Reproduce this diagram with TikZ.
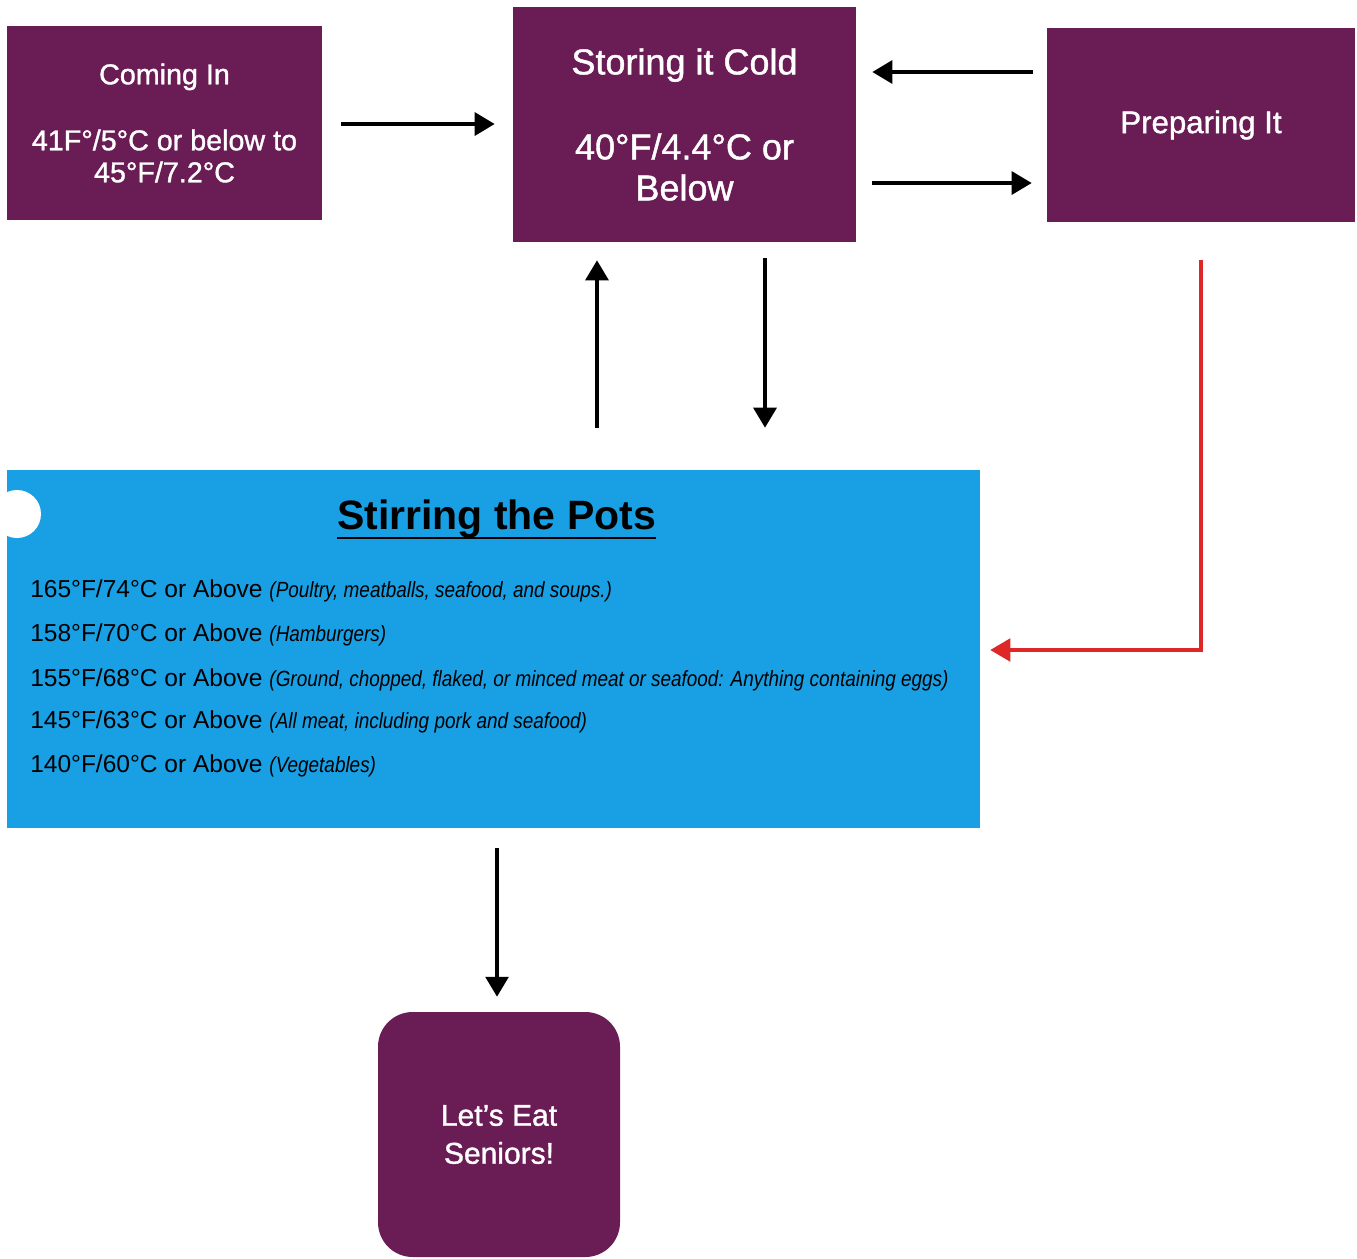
\documentclass[tikz,border=0pt]{standalone}
\usepackage{fontspec}
\setmainfont{Liberation Sans}
\newfontfamily\narrowfont[FakeStretch=0.86]{Liberation Sans}
\newfontfamily\stagefont[FakeBold=1.2]{Liberation Sans}
\usetikzlibrary{arrows.meta,calc}

\definecolor{plum}{RGB}{106,29,85}
\definecolor{skyblue}{RGB}{25,160,228}
\definecolor{arrowred}{RGB}{222,40,40}

% condensed italic remark after each temperature
\newcommand{\foodnote}[1]{{\narrowfont\itshape\fontsize{16.5}{20}\selectfont #1}}

\tikzset{
  stage/.style={fill=plum, text=white, align=center, inner sep=0pt},
  flow/.style={line width=3pt, -{Triangle[length=15pt,width=17pt]}},
  redflow/.style={draw=arrowred, line width=2.3pt, -{Triangle[length=15pt,width=17pt]}},
  templine/.style={anchor=base west, inner sep=0pt, font=\fontsize{18.4}{22}\selectfont}
}

\begin{document}
\begin{tikzpicture}[x=0.75pt,y=-0.75pt]
  \useasboundingbox (0,0) rectangle (1357,1258);
  \fill[white] (0,0) rectangle (1357,1258);

  % purple stage boxes
  \node[stage, minimum width=236.25pt, minimum height=145.5pt,
        font=\stagefont\fontsize{21.5}{24}\selectfont] (coming) at (164.5,123)
        {\rule{0pt}{12pt}Coming In\\[25.5pt]41F°/5°C or below to\\45°F/7.2°C};
  \node[stage, minimum width=257.25pt, minimum height=176.25pt,
        font=\stagefont\fontsize{27}{30.75}\selectfont] (storing) at (684.5,124.5)
        {Storing it Cold\\[33pt]40°F/4.4°C or\\Below};
  \node[stage, minimum width=231pt, minimum height=145.5pt,
        font=\stagefont\fontsize{23.4}{28}\selectfont] (prep) at (1201,125)
        {Preparing It};

  % cooking temperatures panel
  \node[fill=skyblue, minimum width=729.75pt, minimum height=268.5pt,
        inner sep=0pt] (pots) at (493.5,649) {};
  \fill[white] (17,514) circle[radius=18pt];
  \node[anchor=base, inner sep=0pt,
        font=\bfseries\fontsize{30.75}{36}\selectfont] (title) at (496.5,529)
        {Stirring the Pots};
  \draw[line width=2.2pt] ([yshift=-6.75pt]title.base west) -- ([yshift=-6.75pt]title.base east);
  \node[templine] (t165) at (30,597) {165°F/74°C or Above \foodnote{(Poultry, meatballs, seafood, and soups.)}};
  \node[templine] (t158) at (30,641) {158°F/70°C or Above \foodnote{(Hamburgers)}};
  \node[templine] (t155) at (30,686) {155°F/68°C or Above \foodnote{(Ground, chopped, flaked, or minced meat or seafood: Anything containing eggs)}};
  \node[templine] (t145) at (30,728) {145°F/63°C or Above \foodnote{(All meat, including pork and seafood)}};
  \node[templine] (t140) at (30,772) {140°F/60°C or Above \foodnote{(Vegetables)}};

  % serving box
  \node[stage, rounded corners=26pt, minimum width=181.5pt, minimum height=183.75pt,
        font=\stagefont\fontsize{22.5}{28.5}\selectfont] (eat) at (499,1134.5)
        {\rule{0pt}{10pt}Let’s Eat\\Seniors!};

  % connectors
  \draw[flow, shorten <=14.25pt, shorten >=13.5pt] (coming.east |- 0,124) -- (storing.west |- 0,124);
  \draw[flow, shorten <=10.5pt, shorten >=12pt] (prep.west |- 0,72) -- (storing.east |- 0,72);
  \draw[flow, shorten <=12pt, shorten >=11.25pt] (storing.east |- 0,183) -- (prep.west |- 0,183);
  \draw[flow, shorten <=31.5pt, shorten >=13.5pt] (pots.north -| 597,0) -- (storing.south -| 597,0);
  \draw[flow, shorten <=12pt, shorten >=31.5pt] (storing.south -| 765,0) -- (pots.north -| 765,0);
  \draw[redflow, shorten <=28.5pt, shorten >=7.5pt] (prep.south) |- (pots.east |- 0,650);
  \draw[flow, shorten <=15pt, shorten >=11.25pt] (pots.south -| 497,0) -- (eat.north -| 497,0);
\end{tikzpicture}
\end{document}
